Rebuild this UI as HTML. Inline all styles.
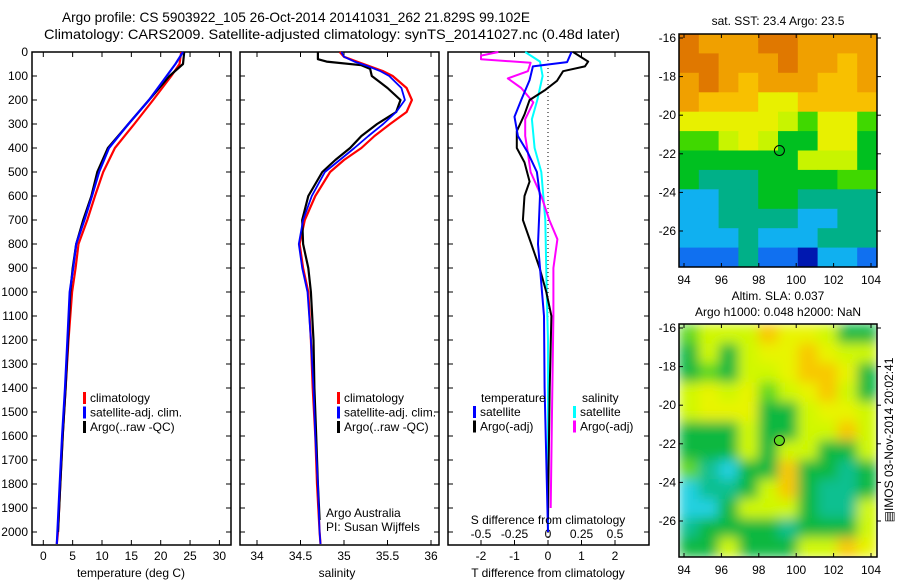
<!DOCTYPE html>
<html><head><meta charset="utf-8"><style>
html,body{margin:0;padding:0;background:#fff}
svg{display:block;font-family:"Liberation Sans",sans-serif;}
</style></head><body>
<svg id="fig" width="900" height="580" viewBox="0 0 900 580">
<defs>
<filter id="blur" x="-0.1" y="-0.1" width="1.2" height="1.2"><feGaussianBlur stdDeviation="6"/></filter>
<clipPath id="clipSLA"><rect x="679" y="324" width="198" height="233"/></clipPath>
</defs>
<text x="62" y="22" font-size="14" textLength="468" lengthAdjust="spacingAndGlyphs">Argo profile: CS 5903922_105 26-Oct-2014 20141031_262 21.829S 99.102E</text>
<text x="44" y="39" font-size="14" textLength="576" lengthAdjust="spacingAndGlyphs">Climatology: CARS2009. Satellite-adjusted climatology: synTS_20141027.nc (0.48d later)</text>
<g id="g1"></g>
<g id="g2"></g>
<g id="g3"></g>
<g id="m1"></g>
<g id="m2"></g>
</svg>
<script>
// ---------- data ----------
const depthTicks = [0,100,200,300,400,500,600,700,800,900,1000,1100,1200,1300,1400,1500,1600,1700,1800,1900,2000];
const tempTicks = [0,5,10,15,20,25,30];
const salTicks = [34,34.5,35,35.5,36];
const tdiffTicks = [-2,-1,0,1,2];
const sdiffTicks = [-0.5,-0.25,0,0.25,0.5];
const sdiffLabels = ['-0.5','-0.25','0','0.25','0.5'];

const tDepth = [0,50,100,200,300,400,500,600,700,800,900,1000,1200,1400,1600,1800,2000,2050];
const tClim = [23.5,23.2,21.8,18.7,15.5,12.2,10.2,8.8,7.5,6,5.5,4.9,4.3,3.8,3.3,2.9,2.5,2.3];
const tSat  = [23.8,22.5,21,18,14.5,11.2,9.5,8.3,7,5.6,5.1,4.5,4.1,3.7,3.2,2.8,2.4,2.3];
const tArgo = [24,23.8,21.5,18,14.5,11,9.2,8.2,6.8,5.6,5,4.6,4.2,3.8,3.3,2.9,2.5];

const sDepth = [0,20,40,60,80,100,150,200,250,300,350,400,450,500,600,700,800,900,1000,1200,1400,1600,1800,2000,2050];
const sClim = [34.95,35.0,35.15,35.3,35.45,35.56,35.72,35.78,35.72,35.53,35.35,35.2,35.0,34.84,34.67,34.55,34.49,34.53,34.59,34.62,34.64,34.67,34.69,34.72,34.73];
const sSat  = [34.97,35.0,35.12,35.28,35.42,35.52,35.66,35.7,35.6,35.45,35.28,35.12,34.95,34.78,34.63,34.53,34.48,34.52,34.58,34.62,34.65,34.67,34.70,34.72,34.73];
const sArgoDepth = [0,30,40,55,70,100,150,200,250,300,350,400,450,500,600,700,800,900,1000,1200,1400,1600,1800,1950];
const sArgo = [34.7,34.7,34.8,35.2,35.3,35.32,35.5,35.65,35.6,35.38,35.2,35.07,34.9,34.75,34.59,34.52,34.53,34.59,34.62,34.65,34.66,34.68,34.7,34.72];

const dtSatDepth = [0,42,60,117,200,270,350,420,500,600,800,1000,1100,1400,1700,2000];
const dtSat = [0.7,0.57,-0.45,-0.55,-0.8,-1.0,-0.9,-0.6,-0.33,-0.24,-0.3,-0.18,-0.12,-0.1,-0.05,0];
const dtArgoDepth = [0,40,60,80,120,160,200,260,330,400,460,540,600,700,800,900,1000,1100,1400,1700,1950];
const dtArgo = [0.75,1.2,1.1,0.45,0.27,-0.1,-0.55,-0.7,-0.93,-0.93,-0.7,-0.55,-0.7,-0.75,-0.5,-0.25,-0.05,0.1,0.05,0.02,0];
const dsSatDepth = [0,40,100,200,280,400,500,700,1000,1200,1600,2000];
const dsSat = [-0.17,-0.06,-0.04,-0.08,-0.12,-0.1,-0.05,-0.02,-0.01,0,0,0];
const dsArgoDepth = [0,15,30,45,80,110,150,210,280,350,420,500,600,700,780,900,1100,1500,1900];
const dsArgo = [-0.37,-0.5,-0.5,-0.13,-0.15,-0.3,-0.2,-0.11,-0.17,-0.17,-0.15,-0.13,-0.05,0.01,0.07,0.04,0.04,0.03,0.02];

const lonTicks = [94,96,98,100,102,104];
const latTicks = [-16,-18,-20,-22,-24,-26];
const sstGrid = [
[10,9,9,9,10,10,9,9,9,9],
[10,10,9,9,9,10,9,9,8,9],
[9,10,9,8,9,9,9,8,8,9],
[9,8,8,8,7,7,8,8,8,8],
[7,7,7,7,7,6,5,7,7,5],
[5,5,6,7,6,4,4,7,7,4],
[4,4,4,4,4,4,6,6,6,4],
[4,3,3,3,4,4,4,4,5,5],
[2,2,3,3,4,4,3,3,3,3],
[2,2,3,3,3,3,2,2,3,3],
[2,2,2,3,2,2,2,3,3,3],
[1,1,1,3,1,1,0,2,2,1]];
const slaGrid = [
[5,6,6,6,8,7,7,6,4,4],
[4,6,4,6,7,7,8,7,6,6],
[4,5,4,6,6,7,8,8,7,4],
[6,7,6,7,5,6,7,8,6,4],
[6,7,7,7,4,4,6,7,7,6],
[4,4,4,6,4,4,6,6,8,6],
[4,4,4,6,4,6,6,4,4,6],
[5,3,2,4,4,8,4,4,3,4],
[2,3,3,4,6,8,4,3,3,4],
[2,2,4,6,6,6,4,3,3,6],
[3,4,4,4,4,3,4,4,4,6],
[4,4,6,4,4,4,6,6,8,7]];
const argoLon = 99.102, argoLat = -21.829;

// ---------- helpers ----------
const NS='http://www.w3.org/2000/svg';
function mk(parent,tag,attrs,text){const e=document.createElementNS(NS,tag);for(const k in attrs)e.setAttribute(k,attrs[k]);if(text!==undefined)e.textContent=text;parent.appendChild(e);return e;}
const top0=52, bot=545;
const yD = d => top0 + d*0.24;
const xT = t => 43.3 + t*5.87;
const xS = s => 257 + (s-34)*87;
const xDT = d => 548 + d*33.5;
const xDS = s => 548 + s*134;

function panel(g,x0,x1,name){
  const r=mk(g,'rect',{x:x0,y:top0,width:x1-x0,height:bot-top0,fill:'none',stroke:'#000','stroke-width':1.5});
  
  
  depthTicks.forEach(d=>{
    mk(g,'line',{x1:x0,x2:x0+5,y1:yD(d),y2:yD(d),stroke:'#000'});
    mk(g,'line',{x1:x1,x2:x1-5,y1:yD(d),y2:yD(d),stroke:'#000'});
  });
}
function xticks(g,vals,labels,fx,ly){
  vals.forEach((v,i)=>{
    const x=fx(v);
    mk(g,'line',{x1:x,x2:x,y1:bot,y2:bot-5,stroke:'#000'});
    mk(g,'line',{x1:x,x2:x,y1:top0,y2:top0+5,stroke:'#000'});
    const t=mk(g,'text',{x:x,y:ly,'font-size':12,'text-anchor':'middle'},labels[i]);
    
    
  });
}
function line(g,xs,ds,fx,color,w,name){
  const pts=xs.map((v,i)=>fx(v).toFixed(1)+','+yD(ds[i]).toFixed(1)).join(' ');
  const p=mk(g,'polyline',{points:pts,fill:'none',stroke:color,'stroke-width':w,'stroke-linejoin':'round'});
  
  
}
function legend(g,x,y,items){
  items.forEach((it,i)=>{
    mk(g,'rect',{x:x,y:y+i*14.5-10,width:3,height:12,fill:it[1]});
    const t=mk(g,'text',{x:x+7,y:y+i*14.5,'font-size':12},it[0]);
    
    
  });
}

// ---------- panel 1 ----------
const g1=document.getElementById('g1');
panel(g1,32,231,'temperature-panel');
depthTicks.forEach(d=>{
  const t=mk(g1,'text',{x:28,y:yD(d)+4,'font-size':12,'text-anchor':'end'},String(d));
  
  
});
xticks(g1,tempTicks,tempTicks.map(String),xT,560);
let t1=mk(g1,'text',{x:131,y:577,'font-size':12,'text-anchor':'middle'},'temperature (deg C)');


line(g1,tClim,tDepth,xT,'#ff0000',2.2,'temp-climatology-line');
line(g1,tArgo,tDepth.slice(0,tArgo.length),xT,'#000000',2.2,'temp-argo-line');
line(g1,tSat,tDepth,xT,'#0000ff',2.2,'temp-satellite-line');
legend(g1,83,402,[['climatology','#f00'],['satellite-adj. clim.','#00f'],['Argo(..raw -QC)','#000']]);

// ---------- panel 2 ----------
const g2=document.getElementById('g2');
panel(g2,240,439,'salinity-panel');
xticks(g2,salTicks,['34','34.5','35','35.5','36'],xS,560);
let t2=mk(g2,'text',{x:337,y:577,'font-size':12,'text-anchor':'middle'},'salinity');


line(g2,sClim,sDepth,xS,'#ff0000',2.2,'sal-climatology-line');
line(g2,sArgo,sArgoDepth,xS,'#000000',2.2,'sal-argo-line');
line(g2,sSat,sDepth,xS,'#0000ff',1.8,'sal-satellite-line');
legend(g2,337,402,[['climatology','#f00'],['satellite-adj. clim.','#00f'],['Argo(..raw -QC)','#000']]);
mk(g2,'text',{x:326,y:517,'font-size':12},'Argo Australia');
mk(g2,'text',{x:326,y:531,'font-size':12},'PI: Susan Wijffels');

// ---------- panel 3 ----------
const g3=document.getElementById('g3');
panel(g3,448,649,'difference-panel');
xticks(g3,tdiffTicks,tdiffTicks.map(String),xDT,560);
sdiffTicks.forEach((v,i)=>{
  const t=mk(g3,'text',{x:xDS(v),y:538,'font-size':12,'text-anchor':'middle'},sdiffLabels[i]);
  
  
});
mk(g3,'line',{x1:548,x2:548,y1:top0,y2:bot,stroke:'#000','stroke-dasharray':'1,3'});
line(g3,dsSat,dsSatDepth,xDS,'#00ffff',2,'sal-diff-satellite-line');
line(g3,dsArgo,dsArgoDepth,xDS,'#ff00ff',2,'sal-diff-argo-line');
line(g3,dtArgo,dtArgoDepth,xDT,'#000000',2,'temp-diff-argo-line');
line(g3,dtSat,dtSatDepth,xDT,'#0000ff',2,'temp-diff-satellite-line');
mk(g3,'text',{x:481,y:402,'font-size':12},'temperature');
mk(g3,'text',{x:582,y:402,'font-size':12},'salinity');
legend(g3,473,416,[['satellite','#00f'],['Argo(-adj)','#000']]);
legend(g3,573,416,[['satellite','#0ff'],['Argo(-adj)','#f0f']]);
mk(g3,'text',{x:548,y:524,'font-size':12,'text-anchor':'middle'},'S difference from climatology');
let t3=mk(g3,'text',{x:548,y:577,'font-size':12,'text-anchor':'middle'},'T difference from climatology');



// ---------- maps ----------
const pal=['#0018b0','#1070f0','#10b0f0','#00b088','#00c020','#40d800','#c8f400','#e8f000','#f8c000','#f0a000','#e07800'];
const palSLA=['#0018b0','#1070f0','#20d0e0','#10c090','#10b840','#60d820','#d0f800','#e8f400','#f8c800','#f0a000','#e07800'];
const xL = lon => 684 + (lon-94)*18.7;
function map(g,grid,palette,y0,blur,filled,name){
  const x0=679,w=198,h=233,cw=w/10,ch=h/12;
  const cells=mk(g,'g',blur?{'clip-path':'url(#clipSLA)'}:{});
  const inner=mk(cells,'g',blur?{filter:'url(#blur)'}:{});
  grid.forEach((row,r)=>row.forEach((v,c)=>{
    const e=mk(inner,'rect',{x:(x0+c*cw).toFixed(1),y:(y0+r*ch).toFixed(1),width:(cw+0.5).toFixed(1),height:(ch+0.5).toFixed(1),fill:palette[v]});
    
    
  }));
  const yLat = lat => y0+4 + (-16-lat)*19.3;
  const fr=mk(g,'rect',{x:x0,y:y0,width:w,height:h,fill:'none',stroke:'#000','stroke-width':1.5});
  
  
  lonTicks.forEach(l=>{
    const x=xL(l);
    mk(g,'line',{x1:x,x2:x,y1:y0,y2:y0+4,stroke:'#000'});
    mk(g,'line',{x1:x,x2:x,y1:y0+h,y2:y0+h-4,stroke:'#000'});
    mk(g,'text',{x:x,y:y0+h+17,'font-size':12,'text-anchor':'middle'},String(l));
  });
  latTicks.forEach(l=>{
    const y=yLat(l);
    mk(g,'line',{x1:x0,x2:x0+4,y1:y,y2:y,stroke:'#000'});
    mk(g,'line',{x1:x0+w,x2:x0+w+4,y1:y,y2:y,stroke:'#000'});
    mk(g,'text',{x:x0-3,y:y+4,'font-size':12,'text-anchor':'end'},String(l));
  });
  const c=mk(g,'circle',{cx:xL(argoLon),cy:yLat(argoLat),r:5,fill:filled?palette[5]:'none',stroke:'#000','stroke-width':1});
  
  
}
const m1=document.getElementById('m1');
map(m1,sstGrid,pal,34,false,false,'sst-map');
mk(m1,'text',{x:778,y:25,'font-size':12,'text-anchor':'middle'},'sat. SST: 23.4 Argo: 23.5');
const m2=document.getElementById('m2');
map(m2,slaGrid,palSLA,324,true,true,'sla-map');
mk(m2,'text',{x:778,y:300,'font-size':12,'text-anchor':'middle'},'Altim. SLA: 0.037');
mk(m2,'text',{x:778,y:316,'font-size':12,'text-anchor':'middle'},'Argo h1000: 0.048 h2000: NaN');
mk(m2,'text',{x:0,y:0,'font-size':12,'text-anchor':'middle',transform:'translate(893,440) rotate(-90)'},'\u25A4IMOS 03-Nov-2014 20:02:41');
</script>
</body></html>
